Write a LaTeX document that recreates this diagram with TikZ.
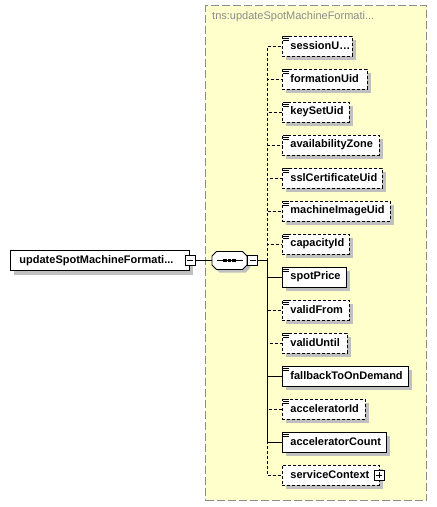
\documentclass[tikz,border=0pt]{standalone}
\usepackage{fontspec}
\setmainfont{Liberation Sans}
\usetikzlibrary{positioning, shadows}

\definecolor{PanelFill}{RGB}{255,255,204}
\definecolor{PanelLine}{RGB}{140,140,140}
\definecolor{ShadowGray}{RGB}{192,192,192}

\tikzset{
  elem/.style={draw=black, fill=white, line width=0.9pt, anchor=west, minimum height=20pt,
    inner ysep=0pt, inner xsep=8pt, align=left, font=\bfseries\fontsize{11}{13}\selectfont,
    drop shadow={shadow xshift=4pt, shadow yshift=-4pt, fill=ShadowGray, opacity=1}},
  opt/.style={dash pattern=on 3pt off 2pt},
  req/.style={},
  link/.style={line width=0.8pt, black},
  minusbox/.style={draw, fill=white, minimum size=10pt, inner sep=0pt, line width=0.7pt,
    path picture={\draw ([xshift=2pt]path picture bounding box.west) -- ([xshift=-2pt]path picture bounding box.east);}},
  plusbox/.style={minusbox,
    path picture={\draw ([xshift=2pt]path picture bounding box.west) -- ([xshift=-2pt]path picture bounding box.east);
      \draw ([yshift=-2pt]path picture bounding box.north) -- ([yshift=2pt]path picture bounding box.south);}}
}

\begin{document}
\begin{tikzpicture}[x=1pt, y=-1pt]
\useasboundingbox (0,0) rectangle (437,507);

\node[draw=PanelLine, fill=PanelFill, dash pattern=on 8pt off 3pt, line width=1.2pt,
  minimum width=221pt, minimum height=495pt, inner sep=0pt, anchor=north west] (panel) at (205,5) {};
\node[anchor=west, text=PanelLine, inner sep=0pt, font=\fontsize{11}{13}\selectfont] (title) at (212,17) {tns:updateSpotMachineFormati...};

\node[elem, minimum width=179pt, text width=161pt, inner xsep=9pt] (root) at (10,260.5) {updateSpotMachineFormati...};
\node[minusbox] (rootm) at (root.east) {};

% sequence compositor
\node[minimum width=35pt, minimum height=18pt, inner sep=0pt] (seq) at (229.5,260.5) {};
\fill[ShadowGray] ([shift={(3pt,-3pt)}]seq.center) ++(-17.5,-4.5) -- ++(4.5,-4.5) -- ++(26,0) -- ++(4.5,4.5)
  -- ++(0,9) -- ++(-4.5,4.5) -- ++(-26,0) -- ++(-4.5,-4.5) -- cycle;
\draw[fill=white, line width=0.9pt] (seq.center) ++(-17.5,-4.5) -- ++(4.5,-4.5) -- ++(26,0) -- ++(4.5,4.5)
  -- ++(0,9) -- ++(-4.5,4.5) -- ++(-26,0) -- ++(-4.5,-4.5) -- cycle;
\node[minusbox, anchor=west] (seqm) at (seq.east) {};
\draw[line width=0.8pt] ([xshift=5pt]seq.west) -- ([xshift=-4.5pt]seq.east);
\foreach \d in {-4.5,0,4.5}
  \fill ([xshift=\d pt]seq.center) +(-1.6pt,-1.6pt) rectangle +(1.6pt,1.6pt);

\coordinate (spine) at (267,260.5);

\foreach \i/\w/\kind/\txt in {0/70/opt/sessionU…, 1/85/opt/formationUid, 2/67/opt/keySetUid,
    3/97/opt/availabilityZone, 4/100/opt/sslCertificateUid, 5/108/opt/machineImageUid,
    6/67/opt/capacityId, 7/64/req/spotPrice, 8/67/opt/validFrom, 9/65/opt/validUntil,
    10/126/req/fallbackToOnDemand, 11/83/opt/acceleratorId, 12/104/req/acceleratorCount,
    13/97/opt/serviceContext} {
  \pgfmathsetmacro\tw{\w-16}
  \node[elem, \kind, minimum width=\w pt, text width=\tw pt] (c\i) at (282,46+33*\i) {\txt};
}

% documentation marks
\foreach \i in {0,...,12}
  \foreach \k in {0.5,2.5,4.5}
    \draw[line width=1pt] ([xshift=0.5pt, yshift=-\k pt]c\i.north west) -- ++(6pt,0);

\node[plusbox] (svcp) at ([xshift=-1pt]c13.east) {};

\draw[link] (rootm.east) -- (seq.west);
\draw[link] (seqm.east) -- (spine);
\foreach \i in {0,1,2,3,4,5,6,8,9,11,13}
  \draw[link, opt] (spine) |- (c\i.west);
\foreach \i in {7,10,12}
  \draw[link] (spine) |- (c\i.west);
\end{tikzpicture}
\end{document}
